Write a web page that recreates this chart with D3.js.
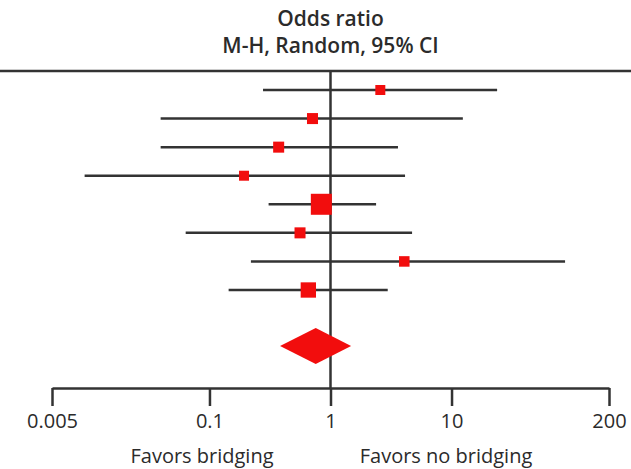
<!DOCTYPE html>
<html>
<head>
<meta charset="utf-8">
<script src="https://cdn.jsdelivr.net/npm/d3@7"></script>
<style>
  body { margin: 0; background: #fff; }
  text { font-family: "Open Sans", "Noto Sans", sans-serif; fill: #2b2b2b; }
</style>
</head>
<body>
<div id="chart"></div>
<script>
// study-level odds ratios with 95% CI, and weights (%)
const studies = ["s1", "s2", "s3", "s4", "s5", "s6", "s7", "s8"];
const oddsRatio = [2.58, 0.71, 0.373, 0.193, 0.84, 0.56, 4.07, 0.656];
const ciLower = [0.277, 0.0395, 0.0395, 0.0093, 0.308, 0.0636, 0.22, 0.144];
const ciUpper = [23.8, 12.4, 3.61, 4.13, 2.38, 4.72, 86.7, 2.97];
const weights = [7.4, 9.0, 9.0, 7.4, 32.7, 9.0, 8.2, 17.4];

// pooled estimate
const pooled = { or: 0.755, lo: 0.383, hi: 1.48 };

const tickValues = [0.005, 0.1, 1, 10, 200];
const tickLabels = ["0.005", "0.1", "1", "10", "200"];
const titleLines = ["Odds ratio", "M-H, Random, 95% CI"];
const sideLabels = ["Favors bridging", "Favors no bridging"];

const width = 631, height = 469;
const ink = "#333";

const svg = d3.select("#chart")
  .append("svg")
  .attr("width", width)
  .attr("height", height);

const x = d3.scaleLog()
  .domain([0.005, 200])
  .range([52, 609]);

const y = d3.scalePoint()
  .domain(studies)
  .range([90, 290]);

const boxSize = d3.scaleSqrt()
  .domain([0, d3.max(weights)])
  .range([0, 21]);

const rows = studies.map((s, i) => ({
  id: s, or: oddsRatio[i], lo: ciLower[i], hi: ciUpper[i], w: weights[i]
}));

// title
svg.selectAll(".title")
  .data(titleLines)
  .join("text")
    .attr("class", "title")
    .attr("x", x(1))
    .attr("y", (d, i) => 26 + i * 27)
    .attr("text-anchor", "middle")
    .style("font-size", "21px")
    .style("font-weight", 600)
    .text(d => d);

// header rule
svg.append("line")
  .attr("x1", 0).attr("x2", width)
  .attr("y1", 71).attr("y2", 71)
  .attr("stroke", ink)
  .attr("stroke-width", 2.5);

// line of no effect
svg.append("line")
  .attr("x1", x(1)).attr("x2", x(1))
  .attr("y1", 71).attr("y2", 388)
  .attr("stroke", ink)
  .attr("stroke-width", 2.5);

// confidence intervals
svg.selectAll(".ci")
  .data(rows)
  .join("line")
    .attr("class", "ci")
    .attr("x1", d => x(d.lo))
    .attr("x2", d => x(d.hi))
    .attr("y1", d => y(d.id))
    .attr("y2", d => y(d.id))
    .attr("stroke", ink)
    .attr("stroke-width", 2.5);

// point estimates
svg.selectAll(".box")
  .data(rows)
  .join("rect")
    .attr("class", "box")
    .attr("x", d => x(d.or) - boxSize(d.w) / 2)
    .attr("y", d => y(d.id) - boxSize(d.w) / 2)
    .attr("width", d => boxSize(d.w))
    .attr("height", d => boxSize(d.w))
    .attr("fill", "#f20d0d");

// pooled diamond
const dy = 346, dh = 18;
svg.append("path")
  .attr("d", "M" + x(pooled.lo) + "," + dy +
    "L" + x(pooled.or) + "," + (dy - dh) +
    "L" + x(pooled.hi) + "," + dy +
    "L" + x(pooled.or) + "," + (dy + dh) + "Z")
  .attr("fill", "#f20d0d");

// axis
const axis = d3.axisBottom(x)
  .tickValues(tickValues)
  .tickFormat((d, i) => tickLabels[i])
  .tickSizeInner(18)
  .tickSizeOuter(0)
  .tickPadding(8);

const gx = svg.append("g")
  .attr("transform", "translate(0,388)")
  .call(axis);

gx.select(".domain")
  .attr("stroke", ink)
  .attr("stroke-width", 2.5);
gx.selectAll(".tick line")
  .attr("stroke", ink)
  .attr("stroke-width", 2.5);
gx.selectAll(".tick text")
  .style("font-size", "20px")
  .style("font-family", "'Open Sans', sans-serif")
  .attr("fill", "#2b2b2b");

// favours labels
svg.selectAll(".side")
  .data(sideLabels)
  .join("text")
    .attr("class", "side")
    .attr("x", (d, i) => i === 0 ? 202 : 446)
    .attr("y", 463)
    .attr("text-anchor", "middle")
    .style("font-size", "20px")
    .text(d => d);
</script>
</body>
</html>
